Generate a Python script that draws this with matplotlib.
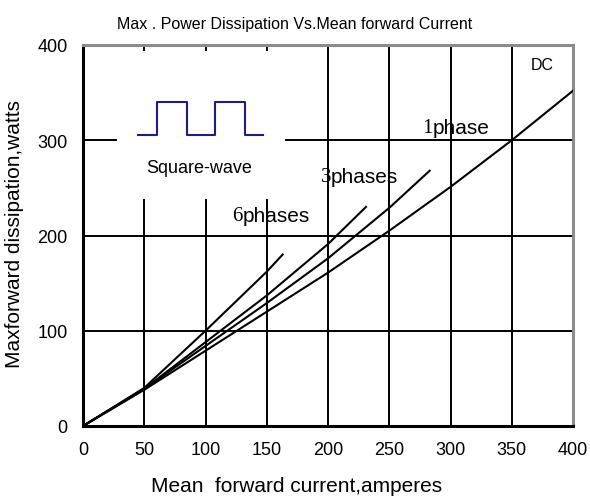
import matplotlib
matplotlib.use("Agg")
import matplotlib.pyplot as plt
from matplotlib.patches import Rectangle

plt.rcParams['font.family'] = ['Liberation Sans', 'DejaVu Sans']

# ---- data ----
dc_x = [0, 50, 100, 150, 200, 250, 300, 350, 400]
dc_y = [0, 38, 79, 120, 161, 205, 251, 300, 352]

ph1_x = [0, 50, 100, 150, 200, 250, 283]
ph1_y = [0, 39, 84, 129, 176, 229, 268]

ph3_x = [0, 50, 100, 150, 200, 231]
ph3_y = [0, 39, 88, 137, 191, 230]

ph6_x = [0, 50, 100, 150, 163]
ph6_y = [0, 40, 100, 162, 180]

sq_x = [45, 60.5, 60.5, 85, 85, 108, 108, 132, 132, 147]
sq_y = [306, 306, 340, 340, 306, 306, 340, 340, 306, 306]

x_ticks = [0, 50, 100, 150, 200, 250, 300, 350, 400]
y_ticks = [0, 100, 200, 300, 400]

title = "Max . Power Dissipation Vs.Mean forward Current"
xlabel = "Mean  forward current,amperes"
ylabel = "Maxforward dissipation,watts"

fig = plt.figure(figsize=(5.90, 5.02), dpi=100)
ax = fig.add_axes([83/590, 1 - 427/502, (573-83)/590, (427-46)/502])

ax.set_xlim(0, 400)
ax.set_ylim(0, 400)
ax.set_xticks(x_ticks)
ax.set_yticks(y_ticks)
ax.tick_params(length=0, labelsize=13)
ax.tick_params(axis='x', pad=11)
ax.tick_params(axis='y', pad=11)

# grid
for gx in x_ticks[1:-1]:
    ax.axvline(gx, color='black', lw=1.4, zorder=2)
for gy in y_ticks[1:-1]:
    ax.axhline(gy, color='black', lw=1.4, zorder=2)

# white inset box covering grid
ax.add_patch(Rectangle((27.8, 238), 165 - 27.8, 394 - 238, facecolor='white',
                       edgecolor='none', zorder=3))

# curves
for xs, ys in [(dc_x, dc_y), (ph1_x, ph1_y), (ph3_x, ph3_y), (ph6_x, ph6_y)]:
    ax.plot(xs, ys, color='black', lw=1.5, zorder=4, solid_joinstyle='round')

# square wave inset
ax.plot(sq_x, sq_y, color='#1c1c8f', lw=1.5, zorder=5)
ax.text(52, 271, "Square-wave", fontsize=13, va='center', ha='left', zorder=5)

# curve labels: serif digit + sans text
def label(x, y, digit, rest, size=15):
    t = ax.text(x, y, digit, fontsize=size, family=['Liberation Serif'],
                va='center', ha='left', zorder=1)
    ax.annotate(rest, xy=(1, 0), xycoords=t, fontsize=size, va='bottom',
                ha='left', zorder=1)

label(277, 313, "1", "phase")
label(194, 262, "3", "phases")
label(122, 221, "6", "phases")

ax.text(375, 380, "DC", fontsize=11.5, ha='center', va='center')

for s in ['left', 'bottom']:
    ax.spines[s].set_linewidth(2.2)
    ax.spines[s].set_color('black')
for s in ['top', 'right']:
    ax.spines[s].set_linewidth(2.2)
    ax.spines[s].set_color('#8c8c8c')

fig.text(0.5, 1 - 24/502, title, ha='center', va='center', fontsize=11.5)
fig.text(297/590, 1 - 487/502, xlabel, ha='center', va='center', fontsize=15)
fig.text(15/590, 1 - 234/502, ylabel, ha='center', va='center', rotation=90,
         fontsize=15)

fig.savefig("out.png", dpi=100)
